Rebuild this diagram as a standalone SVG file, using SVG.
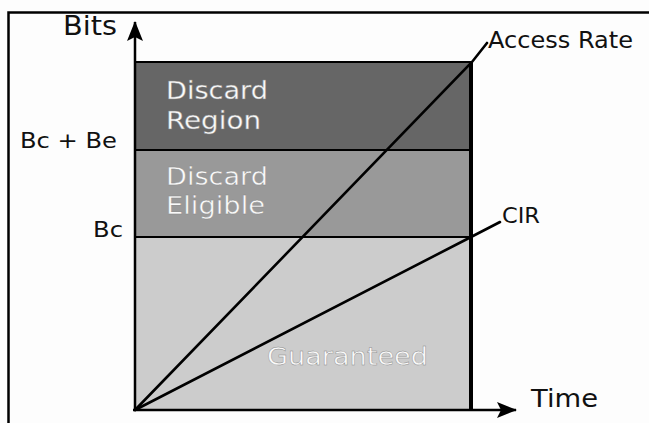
<svg xmlns="http://www.w3.org/2000/svg" width="649" height="423" viewBox="0 0 649 423">
<style>
.lbl{font-family:"DejaVu Sans","Liberation Sans",Arial,sans-serif;fill:#111;}
.in{font-family:"DejaVu Sans","Liberation Sans",Arial,sans-serif;fill:#fafafa;stroke:#888;stroke-width:0.4;}
.ln{stroke:#000;fill:none;stroke-width:2.6;stroke-linecap:round;}
.ax{stroke:#000;fill:none;stroke-width:2.5;}
</style>
<defs>
<marker id="ah" viewBox="0 0 20 16" refX="19" refY="8" markerWidth="20" markerHeight="16" markerUnits="userSpaceOnUse" orient="auto">
<path d="M0,0 L20,8 L0,16 L4,8 Z" fill="#000"/>
</marker>
</defs>
<rect width="649" height="423" fill="#fdfdfd"/>
<path d="M8.5,423 V12.5 H649" fill="none" stroke="#000" stroke-width="2.5"/>
<g id="discard-region">
<rect x="135" y="62" width="336" height="88" fill="#666666" stroke="#000" stroke-width="2"/>
<text class="in" x="166" y="99" font-size="25" textLength="102" lengthAdjust="spacingAndGlyphs">Discard</text>
<text class="in" x="166" y="129" font-size="25" textLength="95" lengthAdjust="spacingAndGlyphs">Region</text>
</g>
<g id="discard-eligible">
<rect x="135" y="150" width="336" height="87" fill="#999999" stroke="#000" stroke-width="2"/>
<text class="in" x="166" y="185" font-size="25" textLength="102" lengthAdjust="spacingAndGlyphs">Discard</text>
<text class="in" x="166" y="214" font-size="25" textLength="99" lengthAdjust="spacingAndGlyphs">Eligible</text>
</g>
<g id="guaranteed">
<rect x="135" y="237" width="336" height="173" fill="#cccccc" stroke="#000" stroke-width="2"/>
<text class="in" x="267" y="365" font-size="24" textLength="161" lengthAdjust="spacingAndGlyphs">Guaranteed</text>
</g>
<line x1="471" y1="62" x2="471" y2="410" stroke="#000" stroke-width="4"/>
<g id="connectors">
<line class="ax" x1="135" y1="411" x2="135" y2="22" marker-end="url(#ah)"/>
<line class="ax" x1="133" y1="410" x2="516" y2="410" marker-end="url(#ah)"/>
<polyline class="ln" points="135,410 472,62 487,43"/>
<polyline class="ln" points="135,410 471,237 500,222"/>
</g>
<g id="axis-labels">
<text class="lbl" x="63" y="35" font-size="26" textLength="54" lengthAdjust="spacingAndGlyphs">Bits</text>
<text class="lbl" x="531" y="407" font-size="25" textLength="67" lengthAdjust="spacingAndGlyphs">Time</text>
<text class="lbl" x="20" y="148" font-size="21" textLength="97" lengthAdjust="spacingAndGlyphs">Bc +  Be</text>
<text class="lbl" x="93" y="237" font-size="22" textLength="30" lengthAdjust="spacingAndGlyphs">Bc</text>
<text class="lbl" x="488" y="48" font-size="23" textLength="145" lengthAdjust="spacingAndGlyphs">Access Rate</text>
<text class="lbl" x="502" y="223" font-size="21" textLength="38" lengthAdjust="spacingAndGlyphs">CIR</text>
</g>
</svg>
